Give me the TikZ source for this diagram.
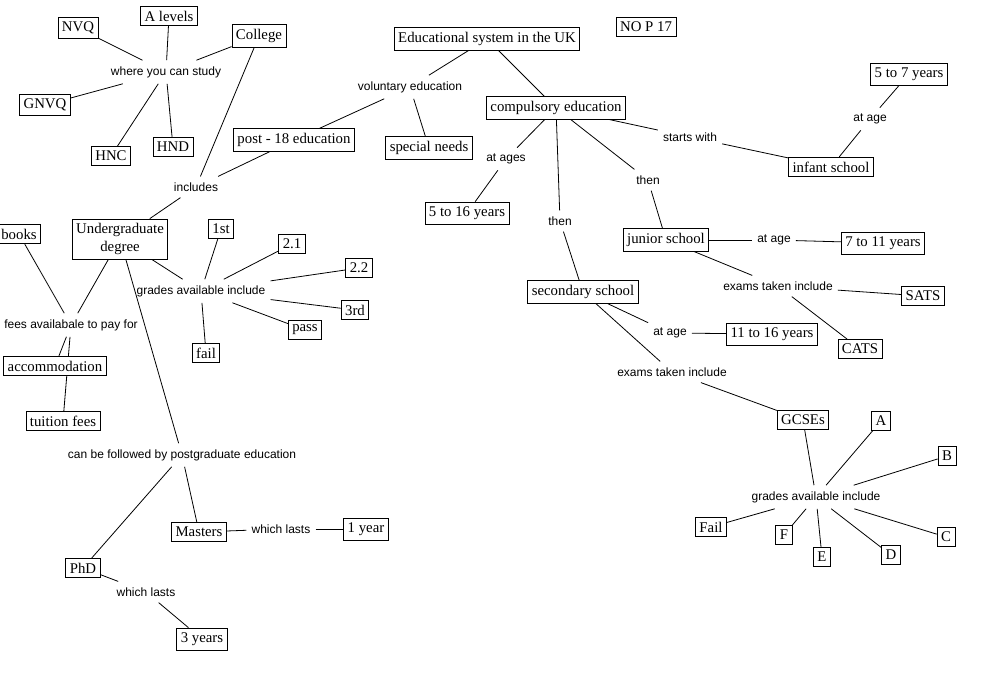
\documentclass[tikz,border=0pt]{standalone}
\usepackage{fontspec}
\setmainfont{Liberation Serif}
\newfontfamily\linkfont{Liberation Sans}
\pgfdeclarelayer{bg}
\pgfsetlayers{bg,main}

\begin{document}
\begin{tikzpicture}[x=1pt, y=-1pt]
\tikzstyle{concept}=[draw=black, fill=white, line width=0.8pt, inner xsep=4pt, inner ysep=4.5pt, align=center, font=\fontsize{14.8}{17.5}\selectfont]
\tikzstyle{link}=[inner xsep=5pt, inner ysep=6pt, font=\linkfont\fontsize{12}{14}\selectfont]
\tikzstyle{conn}=[line width=0.8pt, draw=black]
\useasboundingbox (0,0) rectangle (996,691);
%% top of the map
\node (uk) at (487,39) [concept] {Educational system in the UK};
\node (nop) at (646,27) [concept] {NO P 17};
\node (vol) at (410,87) [link] {voluntary education};
\node (comp) at (556,108) [concept] {compulsory education};
\node (spec) at (429,148) [concept] {special needs};
\node (post) at (294,140) [concept] {post - 18 education};
\node (incl) at (196,187) [link] {includes};
%% where you can study
\node (study) at (166,72) [link] {where you can study};
\node (nvq) at (78,28) [concept] {NVQ};
\node (alev) at (169,16) [concept] {A levels};
\node (coll) at (259,36) [concept] {College};
\node (gnvq) at (45,105) [concept] {GNVQ};
\node (hnc) at (111,156) [concept] {HNC};
\node (hnd) at (173,147) [concept] {HND};
%% compulsory branch
\node (ages) at (506,159) [link] {at ages};
\node (y516) at (467,213) [concept] {5 to 16 years};
\node (then1) at (560,221) [link] {then};
\node (then2) at (648,180) [link] {then};
\node (starts) at (690,137) [link] {starts with};
\node (inf) at (831,167) [concept] {infant school};
\node (age1) at (870,119) [link] {at age};
\node (y57) at (909,74) [concept] {5 to 7 years};
\node (jun) at (666,240) [concept] {junior school};
\node (age2) at (774,240) [link] {at age};
\node (y711) at (883,243) [concept] {7 to 11 years};
\node (exam1) at (778,286) [link] {exams taken include};
\node (sats) at (923,296) [concept] {SATS};
\node (cats) at (860,349) [concept] {CATS};
\node (sec) at (583,292) [concept] {secondary school};
\node (age3) at (670,333) [link] {at age};
\node (y1116) at (772,334) [concept] {11 to 16 years};
\node (exam2) at (672,372) [link] {exams taken include};
\node (gcse) at (803,420) [concept] {GCSEs};
\node (gr2) at (816,497) [link] {grades available include};
\node (ga) at (881,421) [concept] {A};
\node (gb) at (947,456) [concept] {B};
\node (gc) at (946,537) [concept] {C};
\node (gd) at (891,555) [concept] {D};
\node (ge) at (822,557) [concept] {E};
\node (gf) at (784,535) [concept] {F};
\node (gfail) at (711,527) [concept] {Fail};
%% undergraduate branch
\node (ug) at (120,239) [concept] {Undergraduate\\degree};
\node (books) at (19,234) [concept] {books};
\node (fees) at (71,325) [link] {fees availabale to pay for};
\node (acc) at (55,366) [concept] {accommodation};
\node (tuit) at (63,421) [concept] {tuition fees};
\node (gr1) at (201,291) [link] {grades available include};
\node (g1st) at (221,229) [concept] {1st};
\node (g21) at (292,244) [concept] {2.1};
\node (g22) at (359,268) [concept] {2.2};
\node (g3rd) at (355,310) [concept] {3rd};
\node (gpass) at (305,330) [concept] {pass};
\node (gfl) at (206,353) [concept] {fail};
\node (pg) at (182,455) [link] {can be followed by postgraduate education};
\node (mast) at (199,532) [concept] {Masters};
\node (last1) at (281,529) [link] {which lasts};
\node (y1) at (366,529) [concept] {1 year};
\node (phd) at (83,568) [concept] {PhD};
\node (last2) at (146,592) [link] {which lasts};
\node (y3) at (202,639) [concept] {3 years};

\begin{pgfonlayer}{bg}
\draw [conn] (uk) -- (vol);
\draw [conn] (uk) -- (comp);
\draw [conn] (vol) -- (post);
\draw [conn] (vol) -- (spec);
\draw [conn] (post) -- (incl);
\draw [conn] (coll) -- (incl);
\draw [conn] (incl) -- (ug);

\draw [conn] (nvq) -- (study);
\draw [conn] (alev) -- (study);
\draw [conn] (coll) -- (study);
\draw [conn] (study) -- (gnvq);
\draw [conn] (study) -- (hnc);
\draw [conn] (study) -- (hnd);

\draw [conn] (comp) -- (ages);
\draw [conn] (ages) -- (y516);
\draw [conn] (comp) -- (then1);
\draw [conn] (then1) -- (sec);
\draw [conn] (comp) -- (then2);
\draw [conn] (then2) -- (jun);
\draw [conn] (comp) -- (starts);
\draw [conn] (starts) -- (inf);
\draw [conn] (inf) -- (age1);
\draw [conn] (age1) -- (y57);
\draw [conn] (jun) -- (age2);
\draw [conn] (age2) -- (y711);
\draw [conn] (jun) -- (exam1);
\draw [conn] (exam1) -- (sats);
\draw [conn] (exam1) -- (cats);
\draw [conn] (sec) -- (age3);
\draw [conn] (age3) -- (y1116);
\draw [conn] (sec) -- (exam2);
\draw [conn] (exam2) -- (gcse);
\draw [conn] (gcse) -- (gr2);
\draw [conn] (gr2) -- (ga);
\draw [conn] (gr2) -- (gb);
\draw [conn] (gr2) -- (gc);
\draw [conn] (gr2) -- (gd);
\draw [conn] (gr2) -- (ge);
\draw [conn] (gr2) -- (gf);
\draw [conn] (gr2) -- (gfail);

\draw [conn] (ug) -- (fees);
\draw [conn] (books) -- (fees);
\draw [conn] (fees) -- (acc);
\draw [conn] (fees) -- (tuit);
\draw [conn] (ug) -- (gr1);
\draw [conn] (gr1) -- (g1st);
\draw [conn] (gr1) -- (g21);
\draw [conn] (gr1) -- (g22);
\draw [conn] (gr1) -- (g3rd);
\draw [conn] (gr1) -- (gpass);
\draw [conn] (gr1) -- (gfl);
\draw [conn] (ug) -- (pg);
\draw [conn] (pg) -- (mast);
\draw [conn] (pg) -- (phd);
\draw [conn] (mast) -- (last1);
\draw [conn] (last1) -- (y1);
\draw [conn] (phd) -- (last2);
\draw [conn] (last2) -- (y3);
\end{pgfonlayer}
\end{tikzpicture}
\end{document}
